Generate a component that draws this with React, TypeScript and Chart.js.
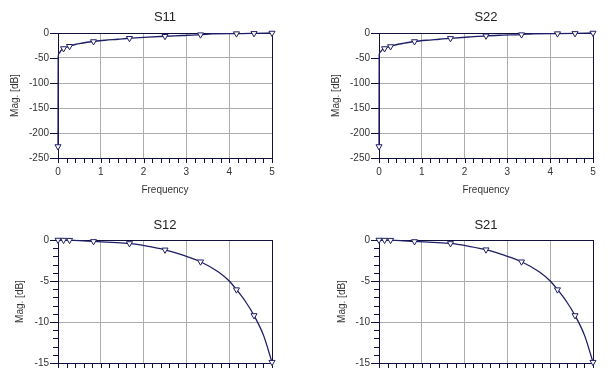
import React, { useEffect, useRef } from "react";
import { Chart, registerables } from "chart.js";

Chart.register(...registerables);

// ---------------- data ----------------
const REFL_LINE_FREQ = [0, 0.004, 0.03, 0.07, 0.13, 0.2, 0.27, 0.4, 0.55, 0.83, 1.1, 1.4, 1.67, 2.1, 2.5, 2.9, 3.33, 3.6, 4.17, 4.58, 5];
const S11_LINE_DB = [-227, -48, -40, -35, -31, -28.5, -26.5, -23, -20.5, -17, -14.5, -12.5, -10.5, -8.3, -6.5, -5, -3.3, -1.5, -1.2, -0.7, 0];
const S22_LINE_DB = [-227, -45, -38, -34, -31, -28.5, -27, -23.5, -21, -17, -14.5, -12.5, -10.7, -8, -5.6, -4.3, -3.2, -1.5, -1.2, -0.8, 0];

const MARKER_FREQ = [0, 0.13, 0.27, 0.83, 1.67, 2.5, 3.33, 4.17, 4.58, 5];
const S11_MARKER_DB = [-227, -31, -26.5, -17, -10.5, -6.5, -3.3, -1.2, -0.7, 0];
const S22_MARKER_DB = [-227, -31, -27, -17, -10.7, -5.6, -3.2, -1.2, -0.8, 0];

const TRANS_LINE_FREQ = [0, 0.13, 0.27, 0.5, 0.83, 1.25, 1.67, 2.08, 2.5, 2.92, 3.33, 3.75, 4.0, 4.17, 4.38, 4.58, 4.8, 5];
const S12_LINE_DB = [0, -0.01, -0.02, -0.07, -0.17, -0.28, -0.42, -0.75, -1.2, -1.85, -2.65, -3.9, -5.0, -6.05, -7.5, -9.2, -11.6, -14.9];
const S21_LINE_DB = [0, -0.01, -0.02, -0.07, -0.18, -0.29, -0.42, -0.75, -1.18, -1.85, -2.65, -3.9, -5.0, -6.05, -7.5, -9.2, -11.6, -14.9];
const S12_MARKER_DB = [0, -0.01, -0.02, -0.17, -0.42, -1.2, -2.65, -6.05, -9.2, -14.9];
const S21_MARKER_DB = [0, -0.01, -0.02, -0.18, -0.42, -1.18, -2.65, -6.05, -9.2, -14.9];

const FREQ_TICKS = [0, 1, 2, 3, 4, 5];
const REFL_Y_RANGE = [-250, 0];
const TRANS_Y_RANGE = [-15, 0];

// ---------------- styling ----------------
const FONT = "'Liberation Sans', Arial, sans-serif";
const NAVY = "#1e1e68";
const GRID = "#acacac";
const FRAME = "#10103a";
const TEXT = "#333333";

type Panel = {
  title: string;
  left: number;
  top: number;
  width: number;
  height: number;
  ca: { l: number; t: number; r: number; b: number };
  yRange: number[];
  yStep: number;
  yMinor: number;
  titlePadTop: number;
  yTitlePad: number;
  lineX: number[];
  lineY: number[];
  markY: number[];
};

const axisDecor = {
  id: "axisDecor",
  beforeDatasetsDraw(chart: any, _a: any, opts: any) {
    const { ctx, chartArea: ca, scales } = chart;
    const x = scales.x;
    const y = scales.y;
    ctx.save();
    ctx.strokeStyle = FRAME;
    ctx.lineWidth = 1;
    ctx.beginPath();
    const nx = Math.round((x.max - x.min) / opts.xMinor);
    for (let i = 0; i <= nx; i++) {
      const v = x.min + i * opts.xMinor;
      const px = Math.round(x.getPixelForValue(v)) + 0.5;
      ctx.moveTo(px, ca.bottom);
      ctx.lineTo(px, ca.bottom + 5);
    }
    const ny = Math.round((y.max - y.min) / opts.yMinor);
    for (let i = 0; i <= ny; i++) {
      const v = y.min + i * opts.yMinor;
      const major = Math.abs(v / opts.yMajor - Math.round(v / opts.yMajor)) < 1e-6;
      const py = Math.round(y.getPixelForValue(v)) + 0.5;
      ctx.moveTo(ca.left, py);
      ctx.lineTo(ca.left - (major ? 8 : 5), py);
    }
    ctx.stroke();
    ctx.strokeRect(
      Math.round(ca.left) + 0.5,
      Math.round(ca.top) + 0.5,
      Math.round(ca.right - ca.left),
      Math.round(ca.bottom - ca.top)
    );
    ctx.restore();
  },
};

function SPanel({ p }: { p: Panel }) {
  const ref = useRef<HTMLCanvasElement | null>(null);
  useEffect(() => {
    if (!ref.current) return;
    const titleLH = 15.6;
    const chart = new Chart(ref.current, {
      type: "line",
      data: {
        datasets: [
          {
            label: p.title + " markers",
            data: MARKER_FREQ.map((f, i) => ({ x: f, y: p.markY[i] })),
            showLine: false,
            pointStyle: "triangle",
            rotation: 180,
            pointRadius: 3.5,
            pointBackgroundColor: "#ffffff",
            pointBorderColor: NAVY,
            pointBorderWidth: 1,
            clip: false,
          } as any,
          {
            label: p.title,
            data: p.lineX.map((f, i) => ({ x: f, y: p.lineY[i] })),
            borderColor: NAVY,
            borderWidth: 1.3,
            pointRadius: 0,
            cubicInterpolationMode: "monotone",
            fill: false,
            clip: 4,
          } as any,
        ],
      },
      options: {
        animation: false,
        responsive: false,
        events: [],
        layout: { padding: { left: 0, top: 0, right: p.width - p.ca.r, bottom: 0 } },
        scales: {
          x: {
            type: "linear",
            min: 0,
            max: 5,
            afterBuildTicks: (s: any) => {
              s.ticks = FREQ_TICKS.map((v) => ({ value: v }));
            },
            afterFit: (s: any) => {
              s.height = p.height - p.ca.b;
            },
            ticks: {
              padding: 8,
              color: TEXT,
              font: { size: 10, family: FONT },
              maxRotation: 0,
              autoSkip: false,
            },
            grid: { color: GRID, drawTicks: false },
            border: { display: false },
            title: {
              display: true,
              text: "Frequency",
              color: TEXT,
              font: { size: 10, family: FONT },
              padding: { top: 0, bottom: 3.3 },
            },
          },
          y: {
            type: "linear",
            min: p.yRange[0],
            max: p.yRange[1],
            afterFit: (s: any) => {
              s.width = p.ca.l;
            },
            ticks: {
              stepSize: p.yStep,
              padding: 9,
              color: TEXT,
              font: { size: 10, family: FONT },
            },
            grid: { color: GRID, drawTicks: false },
            border: { display: false },
            title: {
              display: true,
              text: "Mag. [dB]",
              color: TEXT,
              font: { size: 10, family: FONT },
              padding: { top: p.yTitlePad, bottom: 0 },
            },
          },
        } as any,
        plugins: {
          legend: { display: false },
          tooltip: { enabled: false },
          title: {
            display: true,
            text: p.title,
            fullSize: false,
            color: "#222222",
            font: { size: 13, weight: "normal", family: FONT },
            padding: { top: p.titlePadTop, bottom: p.ca.t - titleLH - p.titlePadTop },
          },
          axisDecor: { xMinor: 0.2, yMinor: p.yMinor, yMajor: p.yStep },
        } as any,
      },
      plugins: [axisDecor],
    });
    return () => chart.destroy();
  }, [p]);
  return (
    <div style={{ position: "absolute", left: p.left, top: p.top, width: p.width, height: p.height }}>
      <canvas ref={ref} width={p.width} height={p.height} style={{ display: "block" }} />
    </div>
  );
}

const PANELS: Panel[] = [
  {
    title: "S11", left: 0, top: 0, width: 300, height: 200,
    ca: { l: 58, t: 33, r: 272, b: 158 },
    yRange: REFL_Y_RANGE, yStep: 50, yMinor: 50, titlePadTop: 9.2, yTitlePad: 9,
    lineX: REFL_LINE_FREQ, lineY: S11_LINE_DB, markY: S11_MARKER_DB,
  },
  {
    title: "S22", left: 300, top: 0, width: 313, height: 200,
    ca: { l: 79, t: 33, r: 293, b: 158 },
    yRange: REFL_Y_RANGE, yStep: 50, yMinor: 50, titlePadTop: 9.2, yTitlePad: 30,
    lineX: REFL_LINE_FREQ, lineY: S22_LINE_DB, markY: S22_MARKER_DB,
  },
  {
    title: "S12", left: 0, top: 200, width: 300, height: 200,
    ca: { l: 58, t: 40, r: 272, b: 163 },
    yRange: TRANS_Y_RANGE, yStep: 5, yMinor: 1, titlePadTop: 17.2, yTitlePad: 14.7,
    lineX: TRANS_LINE_FREQ, lineY: S12_LINE_DB, markY: S12_MARKER_DB,
  },
  {
    title: "S21", left: 300, top: 200, width: 313, height: 200,
    ca: { l: 79, t: 40, r: 293, b: 163 },
    yRange: TRANS_Y_RANGE, yStep: 5, yMinor: 1, titlePadTop: 17.2, yTitlePad: 36.7,
    lineX: TRANS_LINE_FREQ, lineY: S21_LINE_DB, markY: S21_MARKER_DB,
  },
];

export default function App() {
  return (
    <div
      style={{
        position: "fixed",
        left: 0,
        top: 0,
        width: 613,
        height: 370,
        overflow: "hidden",
        background: "#ffffff",
      }}
    >
      {PANELS.map((p) => (
        <SPanel key={p.title} p={p} />
      ))}
    </div>
  );
}
